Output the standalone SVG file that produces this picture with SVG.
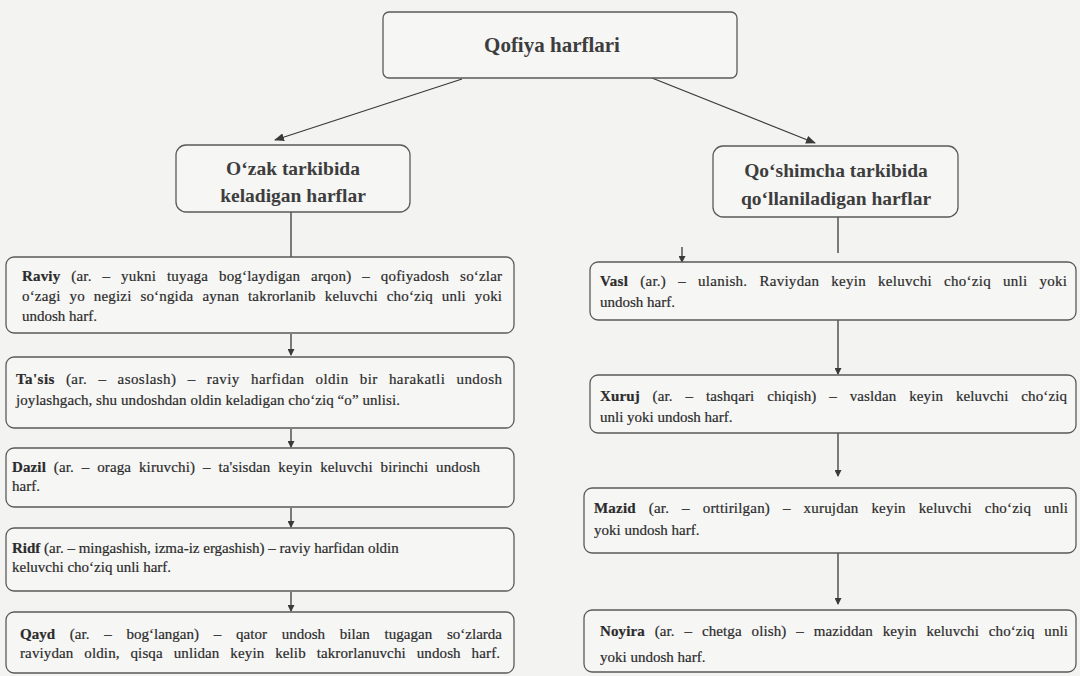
<svg xmlns="http://www.w3.org/2000/svg" width="1080" height="676" viewBox="0 0 1080 676">
<defs>
<style>
.bg{fill:#f3f3f2}
.box{fill:#f6f6f5;stroke:#5a5a5a;stroke-width:1.3}
.hd{font-family:"Liberation Serif","Times New Roman",serif;font-weight:bold;fill:#3d3d3d;text-anchor:middle}
.t{font-family:"Liberation Serif","Times New Roman",serif;font-size:15px;fill:#2b2b2b;stroke:#2b2b2b;stroke-width:0.2}
.b{font-weight:bold}
.ln{stroke:#3a3a3a;stroke-width:1.3;fill:none}
</style>
<marker id="ah" markerWidth="10" markerHeight="8" refX="9" refY="4" orient="auto" markerUnits="userSpaceOnUse">
<path d="M0,0 L10,4 L0,8 Z" fill="#3a3a3a"/>
</marker>
<marker id="as" markerWidth="7" markerHeight="7" refX="6" refY="3.5" orient="auto" markerUnits="userSpaceOnUse">
<path d="M0,0 L7,3.5 L0,7 Z" fill="#3a3a3a"/>
</marker>
</defs>
<rect class="bg" x="0" y="0" width="1080" height="676"/>

<g id="connectors">
<line class="ln" x1="462" y1="79" x2="275" y2="140" marker-end="url(#ah)"/>
<line class="ln" x1="652" y1="78" x2="815" y2="143" marker-end="url(#ah)"/>
<line class="ln" x1="291" y1="212" x2="291" y2="257"/>
<line class="ln" x1="291" y1="334" x2="291" y2="355" marker-end="url(#as)"/>
<line class="ln" x1="291" y1="429" x2="291" y2="447" marker-end="url(#as)"/>
<line class="ln" x1="291" y1="508" x2="291" y2="527" marker-end="url(#as)"/>
<line class="ln" x1="291" y1="592" x2="291" y2="611" marker-end="url(#as)"/>
<line class="ln" x1="838" y1="217" x2="838" y2="253"/>
<line class="ln" x1="682" y1="247" x2="682" y2="262" marker-end="url(#as)"/>
<line class="ln" x1="838" y1="320" x2="838" y2="374" marker-end="url(#as)"/>
<line class="ln" x1="838" y1="433" x2="838" y2="476" marker-end="url(#as)"/>
<line class="ln" x1="838" y1="553" x2="838" y2="604" marker-end="url(#as)"/>
</g>

<g id="root">
<rect class="box" x="383" y="12" width="354" height="66" rx="6"/>
<text class="hd" x="552" y="52" font-size="21">Qofiya harflari</text>
</g>

<g id="ozak">
<rect class="box" x="176" y="145" width="234" height="67" rx="10"/>
<text class="hd" x="293" y="175" font-size="19.5">O‘zak tarkibida</text>
<text class="hd" x="293" y="202" font-size="19.5">keladigan harflar</text>
</g>

<g id="qoshimcha">
<rect class="box" x="713" y="146" width="245" height="71" rx="10"/>
<text class="hd" x="836" y="177" font-size="19.5">Qo‘shimcha tarkibida</text>
<text class="hd" x="836" y="205" font-size="19.5">qo‘llaniladigan harflar</text>
</g>

<g id="raviy">
<rect class="box" x="6" y="257" width="508" height="76" rx="8"/>
<text class="t" x="22" y="281" word-spacing="7" textLength="480" lengthAdjust="spacing"><tspan class="b">Raviy</tspan> (ar. – yukni tuyaga bog‘laydigan arqon) – qofiyadosh so‘zlar</text>
<text class="t" x="22" y="301" word-spacing="5" textLength="480" lengthAdjust="spacing">o‘zagi yo negizi so‘ngida aynan takrorlanib keluvchi cho‘ziq unli yoki</text>
<text class="t" x="22" y="321">undosh harf.</text>
</g>

<g id="tasis">
<rect class="box" x="6" y="357" width="508" height="71" rx="8"/>
<text class="t" x="16" y="384" word-spacing="7" textLength="486" lengthAdjust="spacing"><tspan class="b">Ta'sis</tspan> (ar. – asoslash) – raviy harfidan oldin bir harakatli undosh</text>
<text class="t" x="16" y="405" textLength="384" lengthAdjust="spacing">joylashgach, shu undoshdan oldin keladigan cho‘ziq “o” unlisi.</text>
</g>

<g id="dazil">
<rect class="box" x="6" y="448" width="508" height="59" rx="8"/>
<text class="t" x="12" y="472" word-spacing="4" textLength="468" lengthAdjust="spacing"><tspan class="b">Dazil</tspan> (ar. – oraga kiruvchi) – ta'sisdan keyin keluvchi birinchi undosh</text>
<text class="t" x="12" y="491">harf.</text>
</g>

<g id="ridf">
<rect class="box" x="6" y="528" width="508" height="63" rx="8"/>
<text class="t" x="12" y="553"><tspan class="b">Ridf</tspan> (ar. – mingashish, izma-iz ergashish) – raviy harfidan oldin</text>
<text class="t" x="12" y="572">keluvchi cho‘ziq unli harf.</text>
</g>

<g id="qayd">
<rect class="box" x="6" y="612" width="508" height="61" rx="8"/>
<text class="t" x="20" y="639" word-spacing="11" textLength="482" lengthAdjust="spacing"><tspan class="b">Qayd</tspan> (ar. – bog‘langan) – qator undosh bilan tugagan so‘zlarda</text>
<text class="t" x="20" y="658" word-spacing="7" textLength="480" lengthAdjust="spacing">raviydan oldin, qisqa unlidan keyin kelib takrorlanuvchi undosh harf.</text>
</g>

<g id="vasl">
<rect class="box" x="590" y="262" width="486" height="58" rx="8"/>
<text class="t" x="600" y="286" word-spacing="8" textLength="467" lengthAdjust="spacing"><tspan class="b">Vasl</tspan> (ar.) – ulanish. Raviydan keyin keluvchi cho‘ziq unli yoki</text>
<text class="t" x="600" y="307">undosh harf.</text>
</g>

<g id="xuruj">
<rect class="box" x="590" y="375" width="486" height="58" rx="8"/>
<text class="t" x="600" y="401" word-spacing="9" textLength="467" lengthAdjust="spacing"><tspan class="b">Xuruj</tspan> (ar. – tashqari chiqish) – vasldan keyin keluvchi cho‘ziq</text>
<text class="t" x="600" y="422">unli yoki undosh harf.</text>
</g>

<g id="mazid">
<rect class="box" x="584" y="488" width="492" height="65" rx="8"/>
<text class="t" x="594" y="513" word-spacing="9" textLength="474" lengthAdjust="spacing"><tspan class="b">Mazid</tspan> (ar. – orttirilgan) – xurujdan keyin keluvchi cho‘ziq unli</text>
<text class="t" x="594" y="535">yoki undosh harf.</text>
</g>

<g id="noyira">
<rect class="box" x="584" y="610" width="492" height="62" rx="8"/>
<text class="t" x="600" y="636" word-spacing="6" textLength="468" lengthAdjust="spacing"><tspan class="b">Noyira</tspan> (ar. – chetga olish) – maziddan keyin keluvchi cho‘ziq unli</text>
<text class="t" x="600" y="662">yoki undosh harf.</text>
</g>
</svg>
